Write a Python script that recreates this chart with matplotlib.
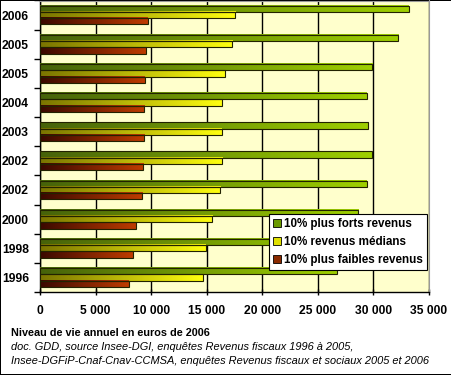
import numpy as np
import matplotlib.pyplot as plt
from matplotlib.patches import Patch
from matplotlib.ticker import FuncFormatter, FixedLocator
from matplotlib.colors import to_rgb

plt.rcParams['font.family'] = ['Liberation Sans', 'DejaVu Sans']

# data (euros de 2006), top to bottom as in the chart
years = ["2006", "2005", "2005", "2004", "2003", "2002", "2002", "2000", "1998", "1996"]
forts = [33200, 32250, 29900, 29400, 29550, 29850, 29400, 28650, 28000, 26700]
medians = [17550, 17300, 16650, 16380, 16350, 16380, 16200, 15500, 14900, 14650]
faibles = [9700, 9540, 9420, 9360, 9360, 9300, 9210, 8670, 8340, 7980]

series_labels = ["10% plus forts revenus", "10% revenus médians", "10% plus faibles revenus"]
# gradient colours: (left, right)
grads = [("#46620a", "#9fd000"), ("#7a7400", "#ffff10"), ("#3a0800", "#bf3c00")]
legend_cols = ["#6a9a00", "#e0e000", "#8a2a00"]

fig = plt.figure(figsize=(4.52, 3.75), dpi=100)
fig.patch.set_facecolor("white")
fig.patch.set_edgecolor("black")
fig.patch.set_linewidth(1.2)
ax = fig.add_axes([40 / 452, 1 - 292 / 375, 389 / 452, 291.5 / 375])
ax.set_facecolor("#ffffcc")

n = len(years)
bh = 0.215
offsets = [-bh, 0, bh]
for s, vals in enumerate([forts, medians, faibles]):
    c0 = np.array(to_rgb(grads[s][0]))
    c1 = np.array(to_rgb(grads[s][1]))
    t = np.linspace(0, 1, 200)[:, None]
    grad = (c0 * (1 - t) + c1 * t)[None, :, :]
    for i, v in enumerate(vals):
        yc = i + offsets[s]
        ax.imshow(grad, extent=(0, v, yc + bh / 2, yc - bh / 2), aspect="auto",
                  interpolation="bilinear", zorder=3)
    ax.barh(np.arange(n) + offsets[s], vals, height=bh, facecolor="none",
            edgecolor="#222200", linewidth=0.8, zorder=4)

ax.set_xlim(0, 35000)
ax.set_ylim(n - 0.5, -0.5)
ax.set_aspect("auto")

ax.set_xticks(np.arange(0, 35001, 5000))
ax.xaxis.set_major_formatter(FuncFormatter(lambda x, p: f"{int(x):,}".replace(",", " ")))
ax.grid(axis="x", color="black", linewidth=1, zorder=1)
ax.set_axisbelow(True)

ax.set_yticks(np.arange(n))
ax.set_yticklabels(years)
ax.yaxis.set_minor_locator(FixedLocator(np.arange(n + 1) - 0.5))
ax.tick_params(axis="y", which="major", length=0, pad=8)
ax.tick_params(axis="y", which="minor", length=4, width=1, direction="out")
ax.tick_params(axis="x", which="major", length=4, width=1, direction="inout", pad=7)
for lab in ax.get_xticklabels() + ax.get_yticklabels():
    lab.set_fontsize(8.7)
    lab.set_fontweight("bold")

for side in ["top", "right"]:
    ax.spines[side].set_color("#999999")
ax.spines["left"].set_linewidth(1)
ax.spines["bottom"].set_linewidth(1)

handles = [Patch(facecolor=c, edgecolor="black", linewidth=0.6) for c in legend_cols]
leg = ax.legend(handles, series_labels, loc="lower right", bbox_to_anchor=(0.996, 0.075),
                prop={"size": 8.4, "weight": "bold"}, fancybox=False, framealpha=1,
                edgecolor="black", handlelength=0.7, handleheight=0.7, handletextpad=0.3,
                borderpad=0.35, labelspacing=0.5, borderaxespad=0)
leg.get_frame().set_linewidth(0.8)
leg.set_zorder(10)

fig.text(11 / 452, 1 - 333 / 375, "Niveau de vie annuel en euros de 2006",
         fontsize=7.8, fontweight="bold", va="center")
fig.text(11 / 452, 1 - 347 / 375,
         "doc. GDD, source Insee-DGI, enquêtes Revenus fiscaux 1996 à 2005,",
         fontsize=7.9, style="italic", va="center")
fig.text(11 / 452, 1 - 361 / 375,
         "Insee-DGFiP-Cnaf-Cnav-CCMSA, enquêtes Revenus fiscaux et sociaux 2005 et 2006",
         fontsize=7.9, style="italic", va="center")

fig.savefig("out.png", dpi=100, edgecolor=fig.get_edgecolor())
